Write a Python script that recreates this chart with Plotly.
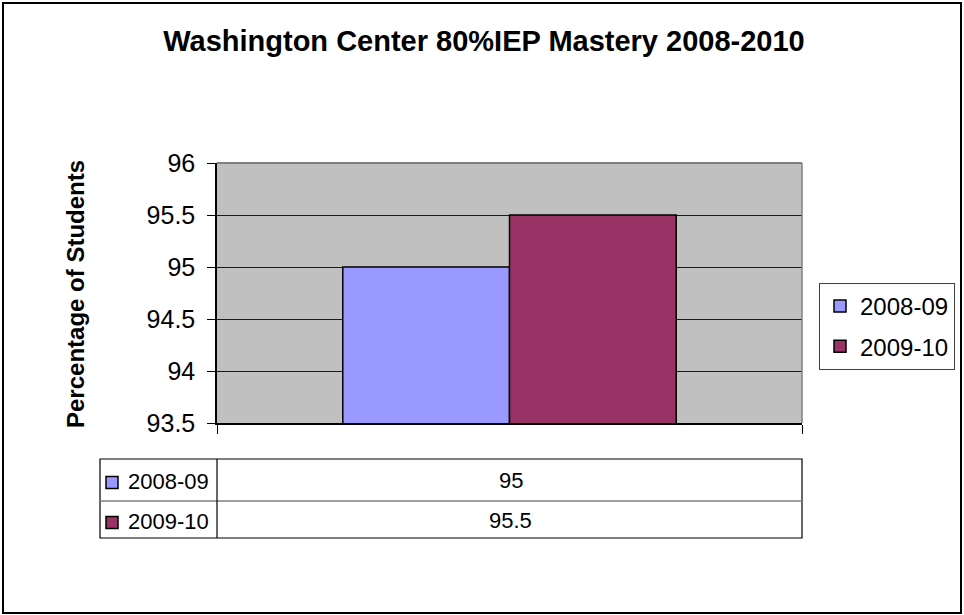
import plotly.graph_objects as go

# ---- data ----
categories = ["80% IEP Mastery"]
series_names = ["2008-09", "2009-10"]
series_values = [95, 95.5]
series_colors = ["#9999FF", "#993366"]
y_tick_values = [93.5, 94, 94.5, 95, 95.5, 96]
y_tick_labels = ["93.5", "94", "94.5", "95", "95.5", "96"]
title_text = "Washington Center 80%IEP Mastery 2008-2010"
y_title_text = "Percentage of Students"

W, H = 964, 615
FONT = "Liberation Sans, Arial, sans-serif"


def fx(px):
    return px / W


def fy(py):
    return 1 - py / H


fig = go.Figure()
for name, val, col in zip(series_names, series_values, series_colors):
    fig.add_trace(go.Bar(
        x=categories, y=[val], name=name,
        marker=dict(color=col, line=dict(color="#000000", width=1.5)),
        legendgroup=name, hoverinfo="skip",
    ))

shapes = []
annotations = []

# outer chart border
shapes.append(dict(type="rect", xref="paper", yref="paper",
                   x0=fx(3), x1=fx(961), y0=fy(613), y1=fy(3),
                   line=dict(color="#000000", width=2), layer="below"))
# plot area top / right border (gray)
shapes.append(dict(type="line", xref="paper", yref="paper",
                   x0=fx(217), x1=fx(802), y0=fy(163), y1=fy(163),
                   line=dict(color="#808080", width=2)))
shapes.append(dict(type="line", xref="paper", yref="paper",
                   x0=fx(802), x1=fx(802), y0=fy(163), y1=fy(423),
                   line=dict(color="#808080", width=1.5)))

# data table
t_left, t_mid, t_right = 100, 217, 802
t_top, t_row, t_bot = 459, 501, 538
shapes.append(dict(type="rect", xref="paper", yref="paper",
                   x0=fx(t_left), x1=fx(t_right), y0=fy(t_bot), y1=fy(t_top),
                   line=dict(color="#000000", width=1.2)))
shapes.append(dict(type="line", xref="paper", yref="paper",
                   x0=fx(t_left), x1=fx(t_right), y0=fy(t_row), y1=fy(t_row),
                   line=dict(color="#808080", width=1.5)))
shapes.append(dict(type="line", xref="paper", yref="paper",
                   x0=fx(t_mid), x1=fx(t_mid), y0=fy(t_bot), y1=fy(t_top),
                   line=dict(color="#000000", width=1.2)))

row_centers = [480.5, 520.5]
for name, val, col, rc in zip(series_names, series_values, series_colors, row_centers):
    shapes.append(dict(type="rect", xref="paper", yref="paper",
                       x0=fx(106), x1=fx(118), y0=fy(rc + 8), y1=fy(rc - 4),
                       fillcolor=col, line=dict(color="#000000", width=1.5)))
    annotations.append(dict(xref="paper", yref="paper", x=fx(126), y=fy(rc + 1),
                            xanchor="left", yanchor="middle", showarrow=False,
                            text=name, font=dict(family=FONT, size=22, color="#000000")))
    annotations.append(dict(xref="paper", yref="paper", x=fx(510.5), y=fy(rc),
                            xanchor="center", yanchor="middle", showarrow=False,
                            text=f"{val:g}", font=dict(family=FONT, size=22, color="#000000")))

# y axis title
annotations.append(dict(xref="paper", yref="paper", x=fx(75), y=fy(294),
                        xanchor="center", yanchor="middle", showarrow=False,
                        textangle=-90, text=f"<b>{y_title_text}</b>",
                        font=dict(family=FONT, size=24, color="#000000")))

fig.update_layout(
    template="none",
    width=W, height=H,
    margin=dict(l=0, r=0, t=0, b=0),
    paper_bgcolor="#FFFFFF",
    plot_bgcolor="#C0C0C0",
    title=dict(text=f"<b>{title_text}</b>", x=fx(484), xanchor="center",
               y=fy(41), yanchor="middle", xref="paper", yref="paper",
               font=dict(family=FONT, size=29, color="#000000")),
    barmode="group", bargap=0.43, bargroupgap=0,
    showlegend=True,
    legend=dict(x=fx(819), y=fy(283), xanchor="left", yanchor="top",
                bgcolor="#FFFFFF", bordercolor="#404040", borderwidth=1,
                font=dict(family=FONT, size=24, color="#000000"),
                traceorder="grouped", tracegroupgap=6),
    xaxis=dict(domain=[fx(217), fx(802)], type="category",
               range=[-0.5, 0.5], tickson="boundaries",
               showticklabels=False, ticks="outside", ticklen=9,
               tickcolor="#000000", tickwidth=1,
               showline=True, linecolor="#000000", linewidth=1.5,
               showgrid=False, zeroline=False, automargin=False, fixedrange=True),
    yaxis=dict(domain=[fy(423), fy(163)], range=[93.5, 96],
               tickvals=y_tick_values, ticktext=y_tick_labels,
               ticks="outside", ticklen=8, tickcolor="#000000", tickwidth=1,
               ticklabelstandoff=7,
               tickfont=dict(family=FONT, size=25, color="#000000"),
               showline=True, linecolor="#000000", linewidth=1.5,
               showgrid=True, gridcolor="#1a1a1a", gridwidth=1,
               zeroline=False, automargin=False, fixedrange=True),
    shapes=shapes,
    annotations=annotations,
)

fig.write_html("out.html", include_plotlyjs=True, full_html=True,
               config={"displayModeBar": False},
               post_script="document.body.style.margin='0';document.body.style.overflow='hidden';")
